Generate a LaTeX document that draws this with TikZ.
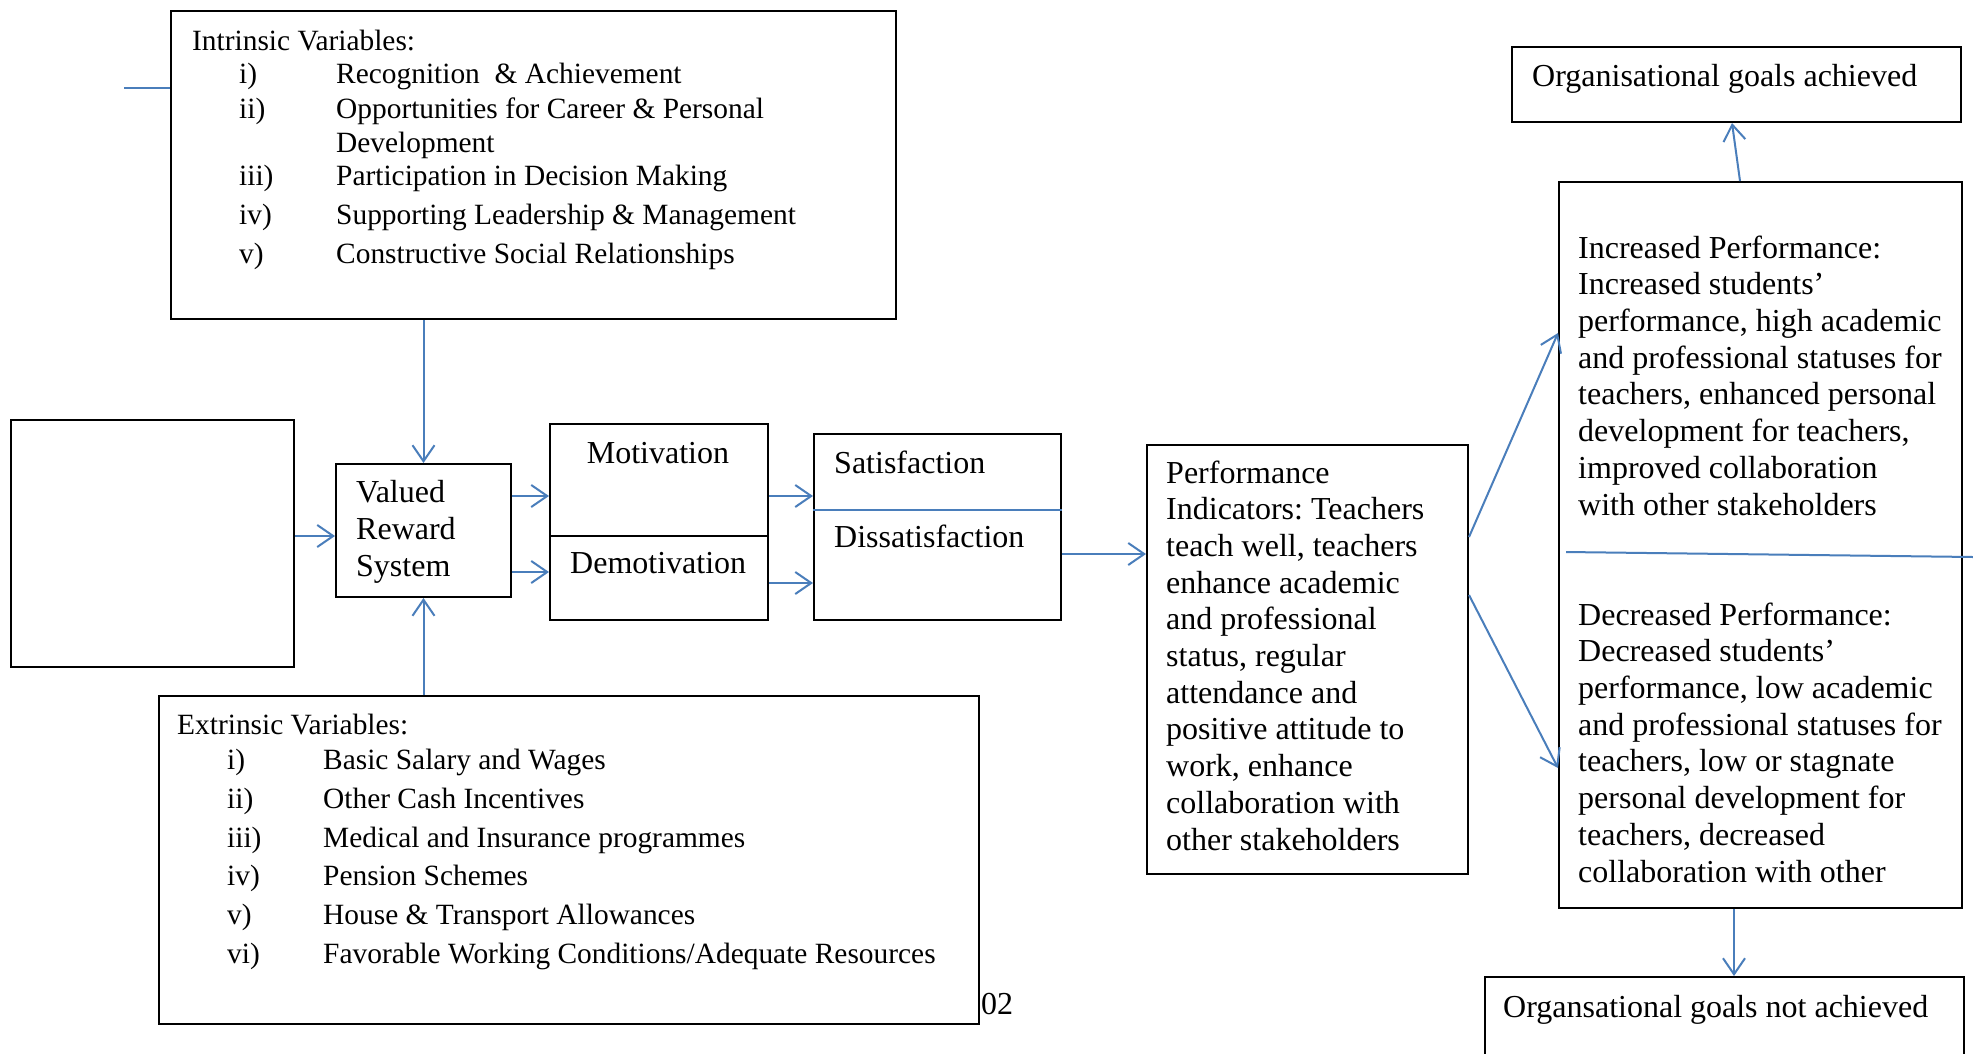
\documentclass[tikz,border=0pt]{standalone}
\usepackage{fontspec}
\setmainfont{Liberation Serif}
\usetikzlibrary{arrows.meta,calc}
\definecolor{lnblue}{RGB}{74,126,187}
\frenchspacing
\begin{document}
\begin{tikzpicture}[x=1pt,y=-1pt,
  box/.style={draw=black,line width=2pt,inner sep=0pt,anchor=north west},
  arr/.style={draw=lnblue,line width=2pt,-{Straight Barb[length=16pt,width=22pt,line width=2pt]}},
  bl/.style={draw=lnblue,line width=2pt},
  big/.style={font=\fontsize{32}{36.7}\selectfont,inner sep=0pt,anchor=base west,align=left},
  sm/.style={font=\fontsize{29.4}{34}\selectfont,inner sep=0pt,anchor=base west}]
\clip (0,0) rectangle (1973,1053);
\fill[white] (0,0) rectangle (1973,1053);

% boxes
\node[box,minimum width=725pt,minimum height=308pt] (intr) at (170,10) {};
\node[box,minimum width=283pt,minimum height=247pt] (leftb) at (10,419) {};
\node[box,minimum width=175pt,minimum height=133pt] (valued) at (335,463) {};
\node[box,minimum width=218pt,minimum height=112pt] (motiv) at (549,423) {};
\node[box,minimum width=218pt,minimum height=84pt] (demot) at (549,535) {};
\node[box,minimum width=247pt,minimum height=186pt] (satis) at (813,433) {};
\node[box,minimum width=321pt,minimum height=429pt] (perf) at (1146,444) {};
\node[box,minimum width=403pt,minimum height=726pt] (incr) at (1558,181) {};
\node[box,minimum width=449pt,minimum height=75pt] (orgyes) at (1511,46) {};
\node[box,minimum width=479pt,minimum height=100pt] (orgno) at (1484,976) {};
\node[box,minimum width=820pt,minimum height=328pt] (extr) at (158,695) {};

% intrinsic text
\node[sm] (intr-t) at (192,50) {Intrinsic Variables:};
\node[sm] (in-n1) at (239,83) {i)};
\node[sm] (in-t1) at (336,83) {Recognition\ \ \& Achievement};
\node[sm] (in-n2) at (239,118) {ii)};
\node[sm] (in-t2) at (336,118) {Opportunities for Career \& Personal};
\node[sm] (in-t2b) at (336,152) {Development};
\node[sm] (in-n3) at (239,185) {iii)};
\node[sm] (in-t3) at (336,185) {Participation in Decision Making};
\node[sm] (in-n4) at (239,224) {iv)};
\node[sm] (in-t4) at (336,224) {Supporting Leadership \& Management};
\node[sm] (in-n5) at (239,263) {v)};
\node[sm] (in-t5) at (336,263) {Constructive Social Relationships};

% extrinsic text
\node[sm] (extr-t) at (177,734) {Extrinsic Variables:};
\node[sm] (ex-n1) at (227,769) {i)};
\node[sm] (ex-t1) at (323,769) {Basic Salary and Wages};
\node[sm] (ex-n2) at (227,808) {ii)};
\node[sm] (ex-t2) at (323,808) {Other Cash Incentives};
\node[sm] (ex-n3) at (227,847) {iii)};
\node[sm] (ex-t3) at (323,847) {Medical and Insurance programmes};
\node[sm] (ex-n4) at (227,885) {iv)};
\node[sm] (ex-t4) at (323,885) {Pension Schemes};
\node[sm] (ex-n5) at (227,924) {v)};
\node[sm] (ex-t5) at (323,924) {House \& Transport Allowances};
\node[sm] (ex-n6) at (227,963) {vi)};
\node[sm] (ex-t6) at (323,963) {Favorable Working Conditions/Adequate Resources};
\node[big] (pg) at (981,1014) {02};

% middle texts (multi-line nodes: base = baseline of last line)
\node[big,font=\fontsize{32}{37}\selectfont] (valued-t) at (356,576) {Valued\\Reward\\System};
\node[big,anchor=base] (motiv-t) at (658,463) {Motivation};
\node[big] (demot-t) at (570,573) {Demotivation};
\node[big] (satis-t) at (834,473) {Satisfaction};
\node[big] (dissat-t) at (834,547) {Dissatisfaction};
\node[big] (perf-t) at (1166,850) {Performance\\Indicators: Teachers\\teach well, teachers\\enhance academic\\and professional\\status, regular\\attendance and\\positive attitude to\\work, enhance\\collaboration with\\other stakeholders};
\node[big] (incr-t) at (1578,515) {Increased Performance:\\Increased students’\\performance, high academic\\and professional statuses for\\teachers, enhanced personal\\development for teachers,\\improved collaboration\\with other stakeholders};
\node[big] (decr-t) at (1578,882) {Decreased Performance:\\Decreased students’\\performance, low academic\\and professional statuses for\\teachers, low or stagnate\\personal development for\\teachers, decreased\\collaboration with other};
\node[big] (orgyes-t) at (1532,86) {Organisational goals achieved};
\node[big] (orgno-t) at (1503,1017) {Organsational goals not achieved};

% blue plain lines
\coordinate (lstub) at (124,88);
\draw[bl] (lstub) -- (intr.west |- lstub);
\draw[bl] (satis.west |- 0,510) -- (satis.east |- 0,510);
\coordinate (hl1) at (1566,552);
\coordinate (hl2) at (1973,557);
\draw[bl] (hl1) -- (hl2);

% arrows
\draw[arr] (intr.south -| valued.north) -- (valued.north);
\draw[arr] (extr.north -| valued.south) -- (valued.south);
\draw[arr] (leftb.east |- 0,536) -- (valued.west |- 0,536);
\draw[arr] (valued.east |- 0,496) -- (motiv.west |- 0,496);
\draw[arr] (valued.east |- 0,572) -- (demot.west |- 0,572);
\draw[arr] (motiv.east |- 0,496) -- (satis.west |- 0,496);
\draw[arr] (demot.east |- 0,583) -- (satis.west |- 0,583);
\draw[arr] (satis.east |- 0,554) -- (perf.west |- 0,554);
\draw[arr] (perf.east |- 0,537) -- (incr.west |- 0,333);
\draw[arr] (perf.east |- 0,595) -- (incr.west |- 0,768);
\draw[arr] (incr.north -| 1740,0) -- (orgyes.south -| 1732,0);
\draw[arr] (incr.south -| 1734,0) -- (orgno.north -| 1734,0);
\end{tikzpicture}
\end{document}
